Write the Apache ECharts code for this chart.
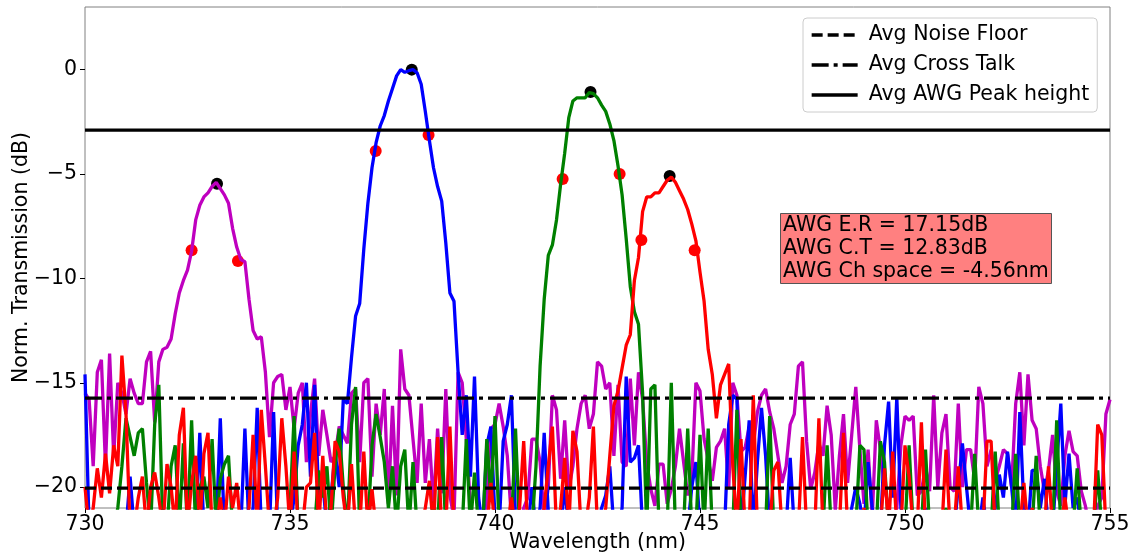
<!DOCTYPE html>
<html><head><meta charset="utf-8">
<script src="https://cdn.jsdelivr.net/npm/echarts@6/dist/echarts.min.js"></script>
<style>html,body{margin:0;padding:0;background:#fff}#c{width:1132px;height:555px}</style>
</head><body><div id="c"></div>
<script>
// wavelength sampling grid (nm)
const wlStart = 730, wlStep = 0.1;
// Normalised transmission (dB), one value per 0.1 nm from 730.0 to 755.0
const magentaDb = [
-15.5,-15.8,-19,-14.5,-13.9,-19,-13.6,-18.5,-15.0,-15.5,
-16.5,-14.8,-15.5,-16.0,-16.0,-14.0,-13.5,-16.9,-14.0,-13.4,
-13.3,-12.9,-11.7,-10.7,-10.1,-9.6,-8.7,-7.2,-6.5,-6.1,
-5.9,-5.6,-5.4,-5.7,-6.0,-6.4,-7.6,-8.5,-9.1,-9.2,
-11.0,-12.5,-12.9,-12.8,-14.5,-17.6,-15.0,-14.7,-14.6,-16.3,
-15.2,-17.2,-15.5,-15.0,-18.8,-16.5,-14.8,-18.5,-16.3,-17.5,
-18.8,-18.5,-17.1,-17.5,-17.9,-15.5,-15.3,-18.8,-15.0,-14.8,
-19.5,-16.0,-17.5,-15.3,-20.8,-16.1,-20.4,-13.4,-15.3,-15.6,
-17.7,-19.8,-16.0,-19.8,-17.7,-20.9,-17.2,-20.3,-15.3,-20.4,
-21.5,-14.5,-15.0,-17.7,-20.9,-22,-21.5,-22,-20.8,-17.2,
-17.0,-16.0,-17.1,-18.5,-21.5,-22,-22,-21,-20.5,-17.7,
-17.7,-18.8,-21.5,-20,-15.6,-16.3,-19.6,-16.8,-20.1,-19.0,
-17.2,-16.0,-15.6,-17.2,-16.5,-14.0,-14.2,-15.3,-15.0,-18.5,
-15.1,-18.8,-19.0,-14.8,-18.0,-14.5,-15.8,-18.8,-20.1,-20.9,
-18.9,-18.9,-20.8,-20.1,-19.0,-17.2,-18.8,-20.4,-19.6,-15.0,
-15.4,-17.7,-18.7,-19.7,-18.1,-17.8,-17.2,-20.1,-15.0,-15.6,
-18.3,-18.1,-17.1,-18.0,-16.4,-15.6,-15.3,-16.4,-17.2,-18.5,
-19.8,-19.0,-17.0,-16.5,-14.2,-14.0,-17.8,-20.1,-19.3,-17.9,
-18.5,-16.1,-17.5,-21.1,-18.5,-16.5,-19.8,-17.5,-15.2,-18.2,
-20.8,-18.2,-21.5,-16.8,-18.2,-20.1,-20.9,-22,-21,-18,
-16.6,-16.8,-16.6,-20.4,-20.2,-19.0,-20.2,-15.6,-20.0,-17.4,
-16.5,-20.0,-20.2,-16.0,-20.0,-18.2,-18.2,-19.7,-15.2,-16,
-19.0,-18.2,-19.7,-19.0,-18.2,-18.4,-20.0,-16,-14.5,-18.0,
-14.6,-16.8,-17.2,-19.0,-20.2,-19.2,-17.5,-20.2,-20.9,-18.5,
-17.3,-18.3,-18.5,-20.2,-20.9,-22,-22,-20.9,-20.5,-16.5,
-15.8];
const blueDb = [
-14.6,-22,-22,-22,-21.5,-22,-22,-22,-22,-22,
-22,-19.5,-22,-22,-22,-22,-22,-22,-22,-21,
-22,-22,-22,-22,-22,-22,-22,-22,-17.4,-22,
-22,-22,-22,-16.7,-22,-22,-22,-22,-22,-17.2,
-22,-21,-16.2,-22,-22,-22,-16.4,-22,-22,-22,
-22,-20.5,-18,-17.0,-15.0,-19.5,-15.1,-20.5,-19.8,-22,
-20.5,-18.3,-20,-15.8,-16.0,-13.8,-11.8,-11.2,-8.6,-6.4,
-4.7,-3.5,-2.7,-2.2,-1.5,-0.9,-0.3,0.0,-0.13,-0.05,
0.0,-0.15,-0.7,-2.0,-3.4,-4.7,-5.6,-6.3,-8.3,-10.7,
-11.1,-14.5,-17.5,-15.6,-19.5,-14.7,-20.5,-22,-18,-17.1,
-21.5,-22,-17.8,-17.0,-15.6,-21.5,-22,-22,-22,-20,
-22,-21,-17.4,-21.2,-22,-22,-22,-20,-22,-22,
-21.3,-22,-22,-22,-22,-22,-21,-20.4,-19.0,-22,
-22,-21,-14.7,-18.8,-18.6,-18.0,-22,-22,-22,-22,
-21.5,-22,-22,-22,-22,-22,-22,-22,-20.0,-18.8,
-22,-22,-22,-22,-22,-22,-22,-17,-15.6,-15.8,
-22,-19.5,-16.8,-22,-18.8,-16.2,-18.5,-22,-22,-22,
-22,-22,-18.6,-22,-22,-22,-22,-22,-22,-22,
-21.5,-22,-22,-22,-22,-22,-22,-21,-20.0,-20.8,
-22,-18.8,-21,-22,-22,-18,-15.9,-20.5,-15.7,-21,
-22,-22,-22,-22,-22,-21,-22,-22,-22,-22,
-22,-22,-22,-20,-17.9,-20.0,-22,-22,-22,-20.5,
-22,-22,-21,-19.4,-20.5,-18.3,-20.0,-22,-16.4,-21,
-22,-19.2,-19.2,-21,-19.6,-22,-22,-19,-16.0,-20.9,
-18.4,-21,-20.5,-22,-22,-22,-22,-22,-22,-22,
-22];
const greenDb = [
-22,-22,-22,-22,-22,-22,-22,-22,-21,-19,
-16.7,-17.6,-18.5,-17.4,-17.2,-19.8,-22,-17.0,-15.1,-22,
-22,-19,-18.0,-22,-17.9,-22,-16.8,-22,-20,-19.5,
-21,-17.7,-22,-19.6,-18.9,-18.5,-22,-22,-22,-22,
-22,-22,-22,-22,-21.5,-22,-22,-22,-22,-22,
-21,-16.6,-22,-22,-22,-22,-22,-19.2,-20.5,-19,
-22,-19,-17.2,-20,-22,-17,-15.2,-22,-22,-22,
-18,-16.5,-17.6,-18.8,-21,-19,-22,-19,-18.2,-22,
-18.8,-22,-22,-22,-22,-20.7,-22,-17.6,-22,-22,
-22,-22,-22,-17.7,-22,-19.3,-22,-22,-17.7,-20.5,
-16.6,-22,-22,-22,-22,-17.2,-22,-22,-22,-22,
-19,-14.2,-11.0,-8.9,-8.4,-7.2,-5.5,-4.0,-2.3,-1.5,
-1.35,-1.35,-1.35,-1.1,-1.15,-1.35,-1.7,-2.0,-2.6,-3.4,
-4.6,-6.0,-8.1,-10.4,-11.6,-12.2,-15.5,-22,-15.3,-15.1,
-22,-22,-22,-15.0,-22,-22,-22,-17.2,-22,-22,
-17.5,-22,-17.2,-22,-22,-22,-22,-22,-22,-16.3,
-22,-22,-22,-22,-22,-22,-22,-16.6,-22,-22,
-22,-22,-22,-22,-22,-22,-22,-22,-22,-22,
-22,-18.0,-22,-22,-22,-22,-22,-22,-22,-18.0,
-18.2,-22,-22,-22,-17.8,-18.8,-22,-22,-22,-22,
-22,-18.0,-22,-22,-22,-18.2,-22,-22,-22,-22,
-21,-22,-22,-22,-22,-22,-22,-18.4,-22,-22,
-22,-22,-18.3,-22,-22,-22,-22,-18.4,-22,-22,
-22,-22,-18.5,-22,-22,-22,-22,-16.8,-22,-22,
-22,-22,-19.1,-22,-22,-22,-22,-19.2,-22,-22,
-22];
const redDb = [
-20.0,-22,-21,-19.1,-20.5,-18.4,-20.3,-18.0,-19.0,-13.7,
-16.5,-22,-22,-20.5,-19.5,-22,-20,-19.3,-20.5,-22,
-18.9,-20.0,-22,-17.5,-16.2,-22,-19.8,-18.5,-22,-18.4,
-17.4,-22,-22,-20.5,-22,-19.5,-21,-19.8,-22,-22,
-21,-17.5,-22,-16.3,-19.0,-22,-22,-20.5,-16.7,-19.0,
-22,-18.3,-22,-22,-20,-19.8,-17.4,-22,-18.5,-22,
-21,-17.8,-18.3,-20.5,-22,-18.9,-22,-22,-18.3,-22,
-20.1,-22,-22,-22,-22,-21.5,-22,-22,-22,-22,
-22,-22,-22,-21,-19.7,-22,-17.6,-22,-22,-17.1,
-22,-22,-22,-22,-22,-22,-22,-22,-22,-19.8,
-22,-22,-22,-22,-20.5,-22,-21,-17.8,-22,-22,
-22,-22,-21,-19,-17.1,-22,-21,-18.6,-22,-17.3,
-18.3,-22,-22,-20.5,-17.1,-22,-22,-21,-18.5,-16.1,
-15.4,-14.3,-13.2,-12.7,-10.1,-9.0,-6.8,-6.1,-6.1,-5.9,
-5.9,-5.6,-5.3,-5.15,-5.4,-5.8,-6.2,-6.7,-7.4,-8.2,
-9.7,-11.1,-13.4,-14.6,-16.7,-15.1,-14.6,-14.1,-19,-22,
-17.7,-22,-22,-15.6,-22,-22,-22,-22,-19.2,-18.8,
-22,-22,-22,-22,-22,-17.6,-22,-22,-22,-16.7,
-22,-22,-22,-22,-22,-17.4,-22,-22,-22,-22,
-21,-22,-22,-22,-22,-19.1,-22,-18.3,-22,-22,
-18.0,-19.5,-22,-22,-16.9,-22,-22,-22,-22,-22,
-18.2,-22,-22,-19.0,-22,-22,-22,-22,-22,-22,
-17.8,-17.8,-22,-22,-22,-22,-22,-22,-22,-19.8,
-22,-21,-22,-22,-22,-19.0,-22,-22,-22,-20.5,
-22,-22,-22,-22,-22,-22,-22,-17.0,-17.5,-22,
-22];
// detected peaks and -3 dB points
const peakX = [733.22, 737.97, 742.33, 744.26];
const peakY = [-5.47, 0.0, -1.07, -5.10];
const halfX = [732.60, 733.73, 737.09, 738.38, 741.65, 743.04, 743.57, 744.87];
const halfY = [-8.65, -9.17, -3.90, -3.13, -5.24, -5.00, -8.16, -8.65];
// averages (dB)
const avgNoiseFloor = -20.05;
const avgCrossTalk = -15.74;
const avgPeakHeight = -2.9;
const xRange = [730, 755];
const xTicks = [730, 735, 740, 745, 750, 755];
const yTicks = [-20, -15, -10, -5, 0];
const yRange = [-21, 3];
const legendNames = ['Avg Noise Floor', 'Avg Cross Talk', 'Avg AWG Peak height'];
const annotation = ['AWG E.R = 17.15dB', 'AWG C.T = 12.83dB', 'AWG Ch space = -4.56nm'];

const FONT = 'DejaVu Sans';
function pairs(arr) { return arr.map((v, i) => [+(wlStart + i * wlStep).toFixed(2), v]); }
function lineSeries(name, arr, color) {
  return { name, type: 'line', data: pairs(arr), symbol: 'none', showSymbol: false, z: 3,
    lineStyle: { color, width: 3.3 }, itemStyle: { color }, animation: false, sampling: null, clip: true };
}
function hline(name, v, dash) {
  return { name, type: 'line', data: [[xRange[0], v], [xRange[1], v]], symbol: 'none', z: 5,
    lineStyle: { color: '#000', width: 3.3, type: dash }, itemStyle: { color: '#000' }, animation: false };
}
const chart = echarts.init(document.getElementById('c'), null, { renderer: 'canvas' });
const minus = v => String(v).replace('-', '\u2212');
chart.setOption({
  animation: false,
  textStyle: { fontFamily: FONT },
  grid: { left: 85, right: 22, top: 7, bottom: 47, show: true, borderColor: '#808080', borderWidth: 1,
    containLabel: false, outerBoundsMode: 'none' },
  xAxis: {
    type: 'value', min: xRange[0], max: xRange[1], interval: 5,
    name: 'Wavelength (nm)', nameLocation: 'middle', nameGap: 24, nameMoveOverlap: false,
    nameTextStyle: { fontSize: 20.5, color: '#000', fontFamily: FONT },
    axisLine: { show: false, onZero: false }, splitLine: { show: false },
    axisTick: { show: true, length: 5, lineStyle: { color: '#000' }, customValues: xTicks },
    axisLabel: { fontSize: 20.5, color: '#000', margin: 6, fontFamily: FONT, customValues: xTicks }
  },
  yAxis: {
    type: 'value', min: yRange[0], max: yRange[1],
    name: 'Norm. Transmission (dB)', nameLocation: 'middle', nameGap: 53, nameMoveOverlap: false,
    nameTextStyle: { fontSize: 20.5, color: '#000', fontFamily: FONT },
    axisLine: { show: false, onZero: false }, splitLine: { show: false },
    axisTick: { show: true, length: 5, lineStyle: { color: '#000' }, customValues: yTicks },
    axisLabel: { fontSize: 20.5, color: '#000', margin: 8, fontFamily: FONT, customValues: yTicks, formatter: minus }
  },
  legend: {
    data: legendNames, orient: 'vertical', left: 803, top: 18,
    itemWidth: 46, itemHeight: 14, itemGap: 8, padding: [6, 8, 6, 7],
    itemStyle: { color: 'rgba(0,0,0,0)', borderColor: 'rgba(0,0,0,0)', borderWidth: 0 },
    lineStyle: { width: 3.3 },
    backgroundColor: 'rgba(255,255,255,0.8)', borderColor: '#cccccc', borderWidth: 1, borderRadius: 4,
    textStyle: { fontSize: 20.5, color: '#000', fontFamily: FONT, lineHeight: 22, padding: [0, 0, 0, 6] }
  },
  title: {
    text: annotation.join('\n'), left: 780, top: 213, padding: [1, 3, 1, 3],
    backgroundColor: '#ff8080', borderColor: '#555', borderWidth: 1,
    textStyle: { fontSize: 20.5, fontWeight: 'normal', color: '#000', fontFamily: FONT, lineHeight: 23 }
  },
  series: [
    { name: 'peaks', type: 'scatter', data: peakX.map((x, i) => [x, peakY[i]]), symbolSize: 12, z: 2,
      itemStyle: { color: '#000', opacity: 1 } },
    { name: 'half', type: 'scatter', data: halfX.map((x, i) => [x, halfY[i]]), symbolSize: 12, z: 2,
      itemStyle: { color: '#ff0000', opacity: 1 } },
    lineSeries('ch1', magentaDb, '#bf00bf'),
    lineSeries('ch2', blueDb, '#0000ff'),
    lineSeries('ch3', greenDb, '#008000'),
    lineSeries('ch4', redDb, '#ff0000'),
    hline(legendNames[0], avgNoiseFloor, [11, 5]),
    hline(legendNames[1], avgCrossTalk, [17, 5, 4, 5]),
    hline(legendNames[2], avgPeakHeight, 'solid')
  ]
});
</script></body></html>
